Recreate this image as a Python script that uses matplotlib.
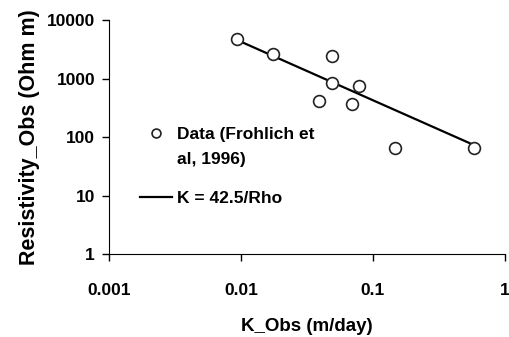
import matplotlib
matplotlib.use('Agg')
import matplotlib.pyplot as plt
from matplotlib.lines import Line2D

plt.rcParams['font.family'] = ['Liberation Sans', 'DejaVu Sans']
plt.rcParams['font.weight'] = 'bold'

# Observed hydraulic conductivity vs resistivity
k_obs = [0.0093, 0.0174, 0.0486, 0.0486, 0.0784, 0.0392, 0.069, 0.147, 0.586]
rho_obs = [4730, 2594, 2426, 828, 745, 412, 362, 65.6, 65.6]

# Model line K = 42.5/Rho
k_line = [0.0093, 0.586]
rho_line = [42.5 / k for k in k_line]

fig = plt.figure(figsize=(5.1, 3.37), dpi=100)
ax = fig.add_axes([0.2137, 0.246, 0.7763, 0.6947])

line, = ax.plot(k_line, rho_line, color='black', lw=1.6, zorder=2)
pts, = ax.plot(k_obs, rho_obs, 'o', ms=8.5, mfc='white', mec='#222222', mew=1.2,
               zorder=3)

ax.set_xscale('log')
ax.set_yscale('log')
ax.set_xlim(0.001, 1)
ax.set_ylim(1, 10000)
ax.set_xticks([0.001, 0.01, 0.1, 1])
ax.set_xticklabels(['0.001', '0.01', '0.1', '1'])
ax.set_yticks([1, 10, 100, 1000, 10000])
ax.set_yticklabels(['1', '10', '100', '1000', '10000'])
ax.minorticks_off()
ax.tick_params(direction='out', length=5, width=1, labelsize=12.5)
ax.tick_params(axis='x', pad=16)
ax.tick_params(axis='y', pad=5)
for s in ['top', 'right']:
    ax.spines[s].set_visible(False)

ax.set_xlabel('K_Obs (m/day)', fontsize=13.5, fontweight='bold', labelpad=14)
ax.set_ylabel('Resistivity_Obs (Ohm m)', fontsize=15.5, fontweight='bold', labelpad=5)

# legend: marker sits on the first text line, so split the label
blank = Line2D([], [], linestyle='none')
leg1 = ax.legend([pts, blank], ['Data (Frohlich et', 'al, 1996)'],
                 loc='upper left', bbox_to_anchor=(140 / 510, 1 - 127 / 337),
                 bbox_transform=fig.transFigure, frameon=False, fontsize=12.5,
                 handlelength=1.85, handletextpad=0.3, labelspacing=0.55,
                 borderpad=0, borderaxespad=0, markerscale=0.75)
ax.add_artist(leg1)
ax.legend([line], ['K = 42.5/Rho'],
          loc='upper left', bbox_to_anchor=(140 / 510, 1 - 191 / 337),
          bbox_transform=fig.transFigure, frameon=False, fontsize=12.5,
          handlelength=1.85, handletextpad=0.3, borderpad=0, borderaxespad=0)

fig.savefig('out.png', dpi=100)
